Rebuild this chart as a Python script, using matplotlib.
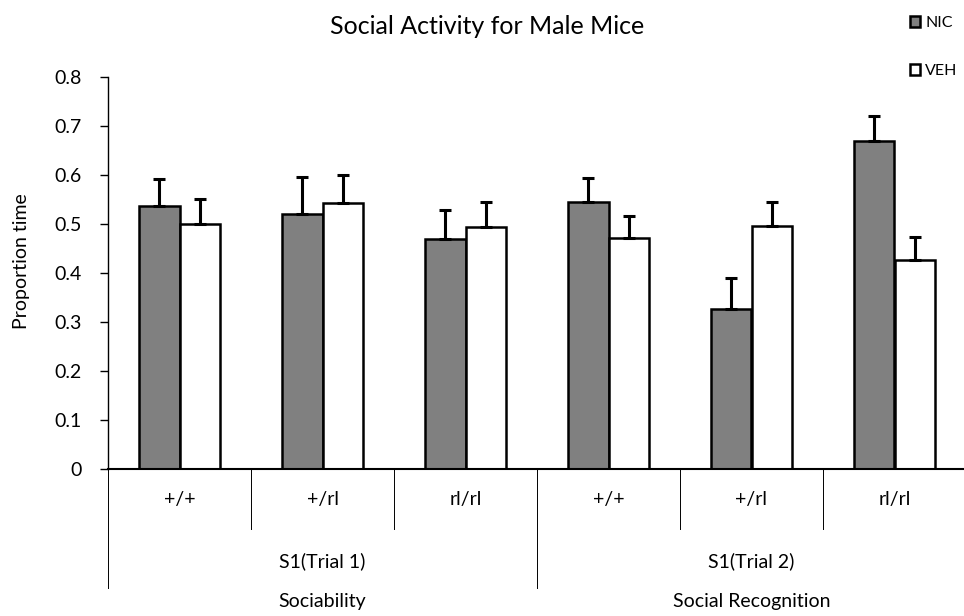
import matplotlib
matplotlib.use("Agg")
import matplotlib.pyplot as plt
import numpy as np

plt.rcParams["font.family"] = ["Lato", "DejaVu Sans"]

genotypes = ["+/+", "+/rl", "rl/rl", "+/+", "+/rl", "rl/rl"]
trials = ["S1(Trial 1)", "S1(Trial 2)"]
phases = ["Sociability", "Social Recognition"]

nic_mean = [0.537, 0.521, 0.469, 0.544, 0.326, 0.669]
nic_err = [0.054, 0.075, 0.060, 0.049, 0.063, 0.051]
veh_mean = [0.499, 0.542, 0.493, 0.471, 0.495, 0.427]
veh_err = [0.052, 0.057, 0.052, 0.045, 0.049, 0.046]

W, H = 964, 616
fig = plt.figure(figsize=(W / 100, H / 100), dpi=100)
ax = fig.add_axes([108 / W, 1 - 469 / H, 858 / W, (469 - 76.7) / H])

n = len(genotypes)
x = np.arange(n) + 0.5
bw = 1 / 3.5
err_kw = dict(ecolor="black", elinewidth=2.2, capsize=4, capthick=2.2)
b1 = ax.bar(x - bw / 2, nic_mean, bw, yerr=[np.zeros(n), nic_err],
            color="#808080", edgecolor="black", linewidth=1.8,
            error_kw=err_kw, label="NIC")
b2 = ax.bar(x + bw / 2, veh_mean, bw, yerr=[np.zeros(n), veh_err],
            color="white", edgecolor="black", linewidth=1.8,
            error_kw=err_kw, label="VEH")

ax.set_xlim(0, n)
ax.set_ylim(0, 0.8)
ax.set_yticks(np.arange(0, 0.81, 0.1))
ax.set_yticklabels(["0"] + [f"{v:.1f}" for v in np.arange(0.1, 0.81, 0.1)])
ax.tick_params(axis="y", direction="out", length=5.8, width=1, labelsize=14,
               pad=13)
ax.set_xticks([])
for s in ("top", "right"):
    ax.spines[s].set_visible(False)
ax.spines["left"].set_linewidth(1)
ax.spines["bottom"].set_linewidth(1.5)

px = 1 / (469 - 76.7)
ax.set_ylabel("Proportion time", fontsize=14, va="center")
ax.yaxis.set_label_coords(-(108 - 22) / 858, (469 - 261) * px)

# multi-level category axis below the plot
tr = ax.get_xaxis_transform()
for i in range(n + 1):
    bottom = -(588 - 469) * px if i in (0, 3, 6) else -(529 - 469) * px
    ax.plot([i, i], [0, bottom], color="black", lw=0.7, transform=tr,
            clip_on=False)
for i, g in enumerate(genotypes):
    ax.text(i + 0.5, -(500 - 469) * px, g, transform=tr, ha="center",
            va="center", fontsize=14)
for j, t in enumerate(trials):
    ax.text(3 * j + 1.5, -(561 - 469) * px, t, transform=tr, ha="center",
            va="center", fontsize=14)
for j, p in enumerate(phases):
    ax.text(3 * j + 1.5, -(602 - 469) * px, p, transform=tr, ha="center",
            va="center", fontsize=14)

fig.text(487 / W, 1 - 27 / H, "Social Activity for Male Mice", ha="center",
         va="center", fontsize=18)

fig.legend(handles=[b1, b2], loc="upper left",
           bbox_to_anchor=(910 / W, 1 - 16 / H), frameon=False, fontsize=11.5,
           handlelength=0.63, handleheight=0.63, handletextpad=0.31,
           labelspacing=2.15, borderpad=0, borderaxespad=0)

fig.savefig("out.png", dpi=100)
